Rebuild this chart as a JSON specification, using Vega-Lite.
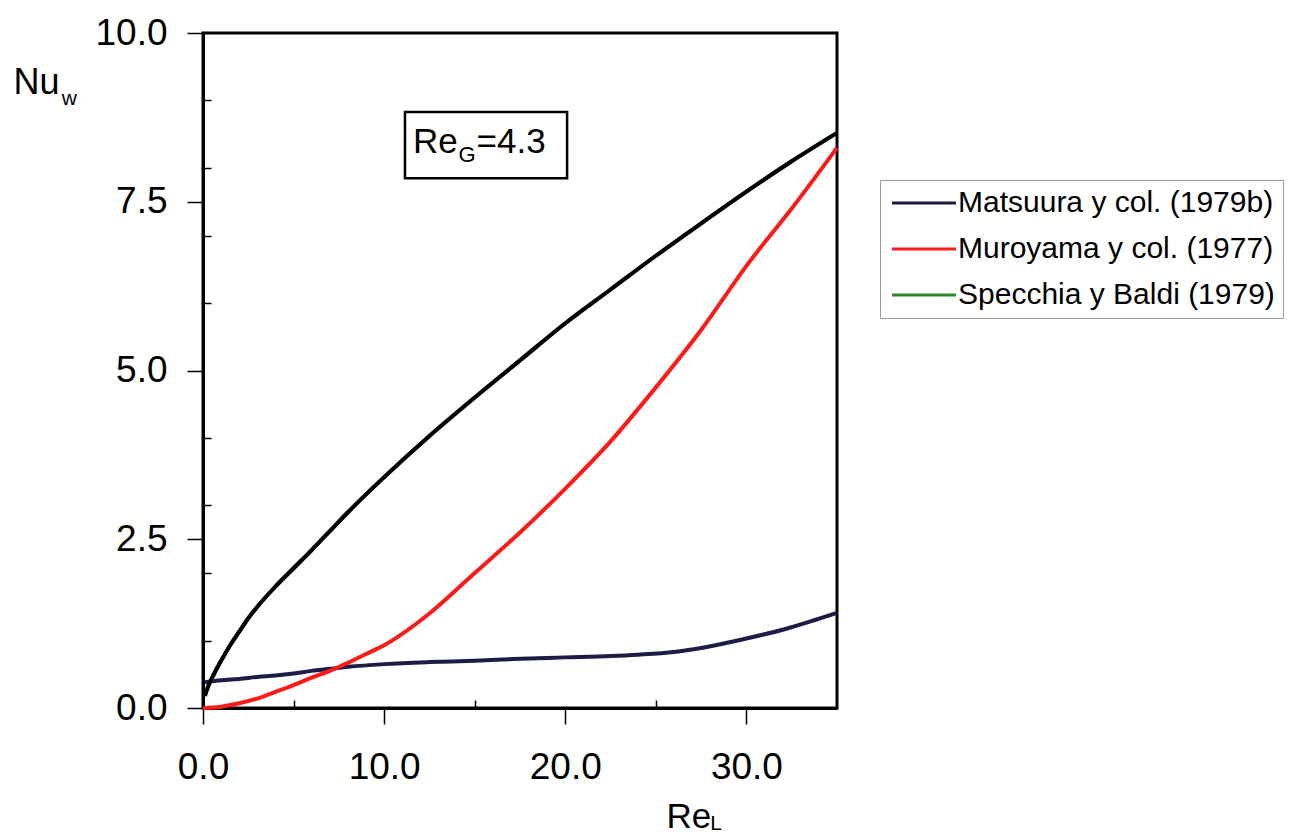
{
  "$schema": "https://vega.github.io/schema/vega-lite/v6.json",
  "width": 634,
  "height": 675,
  "autosize": {"type": "none"},
  "padding": {"left": 203, "top": 33, "right": 455, "bottom": 131},
  "background": "white",
  "config": {
    "view": {"stroke": "black", "strokeWidth": 3},
    "font": "Liberation Sans"
  },
  "data": {
    "values": [
      {"series": "Matsuura y col. (1979b)", "x": 0.1, "y": 0.38},
      {"series": "Matsuura y col. (1979b)", "x": 1, "y": 0.41},
      {"series": "Matsuura y col. (1979b)", "x": 2, "y": 0.43},
      {"series": "Matsuura y col. (1979b)", "x": 3, "y": 0.46},
      {"series": "Matsuura y col. (1979b)", "x": 4, "y": 0.48},
      {"series": "Matsuura y col. (1979b)", "x": 5, "y": 0.51},
      {"series": "Matsuura y col. (1979b)", "x": 6, "y": 0.55},
      {"series": "Matsuura y col. (1979b)", "x": 7, "y": 0.58},
      {"series": "Matsuura y col. (1979b)", "x": 8, "y": 0.61},
      {"series": "Matsuura y col. (1979b)", "x": 10, "y": 0.65},
      {"series": "Matsuura y col. (1979b)", "x": 12.5, "y": 0.68},
      {"series": "Matsuura y col. (1979b)", "x": 15, "y": 0.7},
      {"series": "Matsuura y col. (1979b)", "x": 17.5, "y": 0.73},
      {"series": "Matsuura y col. (1979b)", "x": 20, "y": 0.75},
      {"series": "Matsuura y col. (1979b)", "x": 22.5, "y": 0.77},
      {"series": "Matsuura y col. (1979b)", "x": 24, "y": 0.79},
      {"series": "Matsuura y col. (1979b)", "x": 26, "y": 0.83},
      {"series": "Matsuura y col. (1979b)", "x": 27.5, "y": 0.89},
      {"series": "Matsuura y col. (1979b)", "x": 29, "y": 0.97},
      {"series": "Matsuura y col. (1979b)", "x": 30, "y": 1.03},
      {"series": "Matsuura y col. (1979b)", "x": 32, "y": 1.16},
      {"series": "Matsuura y col. (1979b)", "x": 33.5, "y": 1.28},
      {"series": "Matsuura y col. (1979b)", "x": 35, "y": 1.41},
      {"series": "Muroyama y col. (1977)", "x": 0, "y": 0},
      {"series": "Muroyama y col. (1977)", "x": 1, "y": 0.02},
      {"series": "Muroyama y col. (1977)", "x": 2, "y": 0.07},
      {"series": "Muroyama y col. (1977)", "x": 3, "y": 0.14},
      {"series": "Muroyama y col. (1977)", "x": 4, "y": 0.24},
      {"series": "Muroyama y col. (1977)", "x": 5, "y": 0.34},
      {"series": "Muroyama y col. (1977)", "x": 6, "y": 0.45},
      {"series": "Muroyama y col. (1977)", "x": 7, "y": 0.55},
      {"series": "Muroyama y col. (1977)", "x": 8, "y": 0.67},
      {"series": "Muroyama y col. (1977)", "x": 9, "y": 0.8},
      {"series": "Muroyama y col. (1977)", "x": 10, "y": 0.93},
      {"series": "Muroyama y col. (1977)", "x": 12.5, "y": 1.4},
      {"series": "Muroyama y col. (1977)", "x": 15, "y": 2.0},
      {"series": "Muroyama y col. (1977)", "x": 17.5, "y": 2.6},
      {"series": "Muroyama y col. (1977)", "x": 20, "y": 3.25},
      {"series": "Muroyama y col. (1977)", "x": 22.5, "y": 3.95},
      {"series": "Muroyama y col. (1977)", "x": 25, "y": 4.75},
      {"series": "Muroyama y col. (1977)", "x": 27.5, "y": 5.6},
      {"series": "Muroyama y col. (1977)", "x": 30, "y": 6.55},
      {"series": "Muroyama y col. (1977)", "x": 32.5, "y": 7.4},
      {"series": "Muroyama y col. (1977)", "x": 35, "y": 8.3},
      {"series": "Specchia y Baldi (1979)", "x": 0.1, "y": 0.18},
      {"series": "Specchia y Baldi (1979)", "x": 0.3, "y": 0.33},
      {"series": "Specchia y Baldi (1979)", "x": 0.6, "y": 0.5},
      {"series": "Specchia y Baldi (1979)", "x": 1, "y": 0.7},
      {"series": "Specchia y Baldi (1979)", "x": 1.5, "y": 0.93},
      {"series": "Specchia y Baldi (1979)", "x": 2, "y": 1.13},
      {"series": "Specchia y Baldi (1979)", "x": 2.5, "y": 1.33},
      {"series": "Specchia y Baldi (1979)", "x": 3, "y": 1.5},
      {"series": "Specchia y Baldi (1979)", "x": 4, "y": 1.8},
      {"series": "Specchia y Baldi (1979)", "x": 5, "y": 2.07},
      {"series": "Specchia y Baldi (1979)", "x": 6, "y": 2.34},
      {"series": "Specchia y Baldi (1979)", "x": 7, "y": 2.62},
      {"series": "Specchia y Baldi (1979)", "x": 8, "y": 2.9},
      {"series": "Specchia y Baldi (1979)", "x": 10, "y": 3.42},
      {"series": "Specchia y Baldi (1979)", "x": 12.5, "y": 4.03},
      {"series": "Specchia y Baldi (1979)", "x": 15, "y": 4.6},
      {"series": "Specchia y Baldi (1979)", "x": 17.5, "y": 5.15},
      {"series": "Specchia y Baldi (1979)", "x": 20, "y": 5.7},
      {"series": "Specchia y Baldi (1979)", "x": 22.5, "y": 6.2},
      {"series": "Specchia y Baldi (1979)", "x": 25, "y": 6.7},
      {"series": "Specchia y Baldi (1979)", "x": 27.5, "y": 7.18},
      {"series": "Specchia y Baldi (1979)", "x": 30, "y": 7.65},
      {"series": "Specchia y Baldi (1979)", "x": 32.5, "y": 8.1},
      {"series": "Specchia y Baldi (1979)", "x": 35, "y": 8.52}
    ]
  },
  "layer": [
    {
      "mark": {"type": "line", "strokeWidth": 4, "interpolate": "monotone"},
      "encoding": {
        "x": {
          "field": "x", "type": "quantitative",
          "scale": {"domain": [0, 35], "nice": false, "zero": false},
          "axis": {
            "values": [0, 5, 10, 15, 20, 25, 30],
            "labelExpr": "datum.value % 10 === 0 ? format(datum.value, '.1f') : ''",
            "tickSize": {"condition": {"test": "datum.value % 10 === 0", "value": 16}, "value": -8},
            "title": "Re",
            "titleX": 463, "titleY": 119, "titleAlign": "left", "titleBaseline": "alphabetic",
            "titleFontSize": 35, "titleFontWeight": "normal", "titleFont": "Liberation Sans", "titleColor": "black",
            "labelFontSize": 37, "labelFont": "Liberation Sans", "labelColor": "black", "labelPadding": 25,
            "labelOverlap": false, "labelFlush": false, "grid": false,
            "domainColor": "black", "domainWidth": 3, "tickColor": "black", "tickWidth": 1.5
          }
        },
        "y": {
          "field": "y", "type": "quantitative",
          "scale": {"domain": [0, 10], "nice": false},
          "axis": {
            "values": [0, 1, 2, 2.5, 3, 4, 5, 6, 7, 7.5, 8, 9, 10],
            "labelExpr": "datum.value % 2.5 === 0 ? format(datum.value, '.1f') : ''",
            "tickSize": {"condition": {"test": "datum.value % 2.5 === 0", "value": 16}, "value": -8},
            "title": "Nu",
            "titleAngle": 0, "titleX": -190, "titleY": 60, "titleAlign": "left", "titleBaseline": "alphabetic",
            "titleFontSize": 36, "titleFontWeight": "normal", "titleFont": "Liberation Sans", "titleColor": "black",
            "labelFontSize": 37, "labelFont": "Liberation Sans", "labelColor": "black", "labelPadding": 20,
            "labelOverlap": false, "labelFlush": false, "grid": false,
            "domainColor": "black", "domainWidth": 3, "tickColor": "black", "tickWidth": 1.5
          }
        },
        "color": {
          "field": "series", "type": "nominal",
          "scale": {
            "domain": ["Matsuura y col. (1979b)", "Muroyama y col. (1977)", "Specchia y Baldi (1979)"],
            "range": ["#1c1c44", "#ff1a1a", "#2a8a2a"]
          },
          "legend": {
            "orient": "none", "legendX": 677, "legendY": 147,
            "title": null,
            "symbolType": "M-3,0H3", "symbolSize": 455, "symbolStrokeWidth": 3,
            "symbolOffset": 21, "labelOffset": 19,
            "labelFontSize": 30, "labelFont": "Liberation Sans", "labelColor": "black", "labelLimit": 0,
            "rowPadding": 16, "padding": 8,
            "strokeColor": "#9a9a9a", "fillColor": "white"
          }
        }
      }
    },
    {
      "transform": [{"filter": "datum.series === 'Specchia y Baldi (1979)'"}],
      "mark": {"type": "line", "color": "black", "strokeWidth": 4, "interpolate": "monotone"},
      "encoding": {
        "x": {"field": "x", "type": "quantitative"},
        "y": {"field": "y", "type": "quantitative"}
      }
    },
    {
      "data": {"values": [{}]},
      "mark": {"type": "rect", "fill": "white", "stroke": "black", "strokeWidth": 2.5},
      "encoding": {
        "x": {"datum": 11.15}, "x2": {"datum": 20.1},
        "y": {"datum": 8.83}, "y2": {"datum": 7.85}
      }
    },
    {
      "data": {"values": [{}]},
      "mark": {"type": "text", "text": "Re", "fontSize": 35, "font": "Liberation Sans", "align": "left", "baseline": "alphabetic", "color": "black"},
      "encoding": {"x": {"datum": 11.59}, "y": {"datum": 8.222}}
    },
    {
      "data": {"values": [{}]},
      "mark": {"type": "text", "text": "G", "fontSize": 22, "font": "Liberation Sans", "align": "left", "baseline": "alphabetic", "color": "black"},
      "encoding": {"x": {"datum": 14.1}, "y": {"datum": 8.089}}
    },
    {
      "data": {"values": [{}]},
      "mark": {"type": "text", "text": "=4.3", "fontSize": 35, "font": "Liberation Sans", "align": "left", "baseline": "alphabetic", "color": "black"},
      "encoding": {"x": {"datum": 15.1}, "y": {"datum": 8.222}}
    },
    {
      "data": {"values": [{}]},
      "mark": {"type": "text", "text": "w", "fontSize": 21, "font": "Liberation Sans", "align": "left", "baseline": "alphabetic", "color": "black"},
      "encoding": {"x": {"datum": -7.8}, "y": {"datum": 8.93}}
    },
    {
      "data": {"values": [{}]},
      "mark": {"type": "text", "text": "L", "fontSize": 21, "font": "Liberation Sans", "align": "left", "baseline": "alphabetic", "color": "black"},
      "encoding": {"x": {"datum": 28.0}, "y": {"datum": -1.8}}
    }
  ]
}
